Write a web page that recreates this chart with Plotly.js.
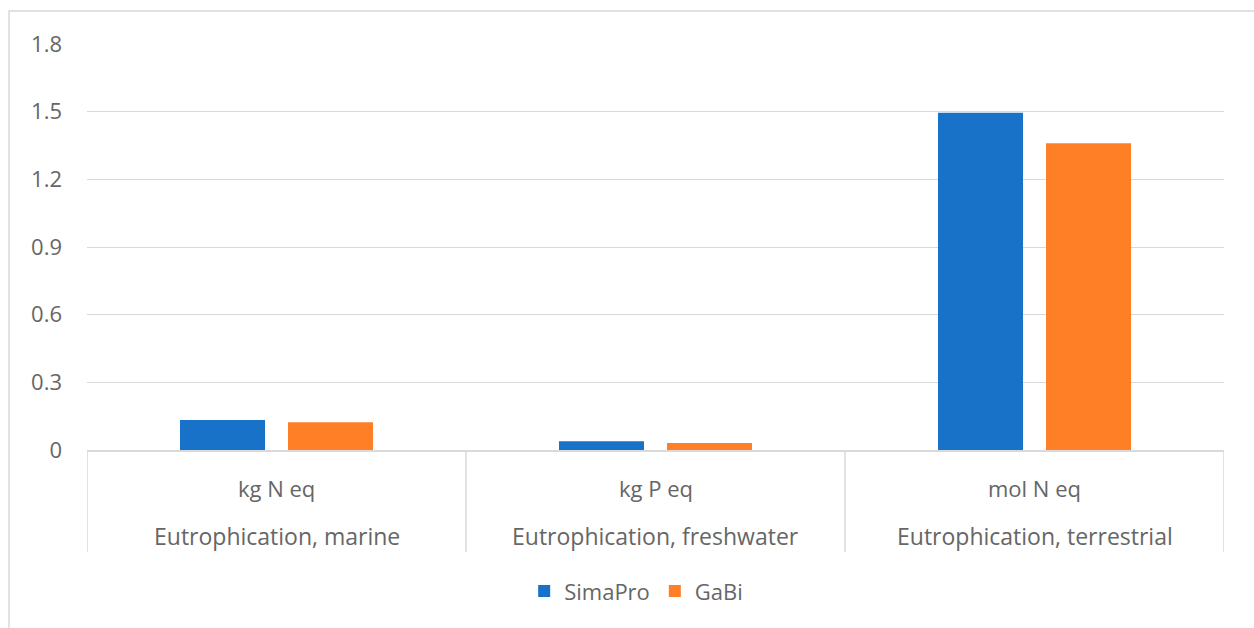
<!DOCTYPE html>
<html>
<head>
<meta charset="utf-8">
<script src="https://cdn.plot.ly/plotly-3.0.1.min.js"></script>
<style>html,body{margin:0;padding:0;background:#fff;}#chart{width:1254px;height:628px;}</style>
</head>
<body>
<div id="chart"></div>
<script>
const categories = ["Eutrophication, marine", "Eutrophication, freshwater", "Eutrophication, terrestrial"];
const units = ["kg N eq", "kg P eq", "mol N eq"];
const simaPro = [0.133, 0.039, 1.495];
const gaBi = [0.123, 0.031, 1.36];
const yTicks = [0, 0.3, 0.6, 0.9, 1.2, 1.5, 1.8];

const FONT = "Open Sans, Noto Sans, sans-serif";
const GRAY = "#666666";
const LINE = "#d9d9d9";
const FS = 22;

const idx = categories.map((c, i) => i);

const traces = [
  {type: "bar", name: "SimaPro", x: idx, y: simaPro, marker: {color: "#1772C8"}},
  {type: "bar", name: "GaBi", x: idx, y: gaBi, marker: {color: "#FF7F27"}}
];

const annotations = [];
idx.forEach(i => {
  annotations.push({x: i, xref: "x", y: -0.0936, yref: "paper", text: units[i], showarrow: false,
    font: {family: FONT, size: FS, color: GRAY}, xanchor: "center", yanchor: "middle"});
  annotations.push({x: i, xref: "x", y: -0.2118, yref: "paper", text: categories[i], showarrow: false,
    font: {family: FONT, size: 23, color: GRAY}, xanchor: "center", yanchor: "middle"});
});

const shapes = [];
[-0.5, 0.5, 1.5, 2.5].forEach(b => {
  shapes.push({type: "line", xref: "x", yref: "paper", x0: b, x1: b, y0: 0, y1: -0.251,
    line: {color: LINE, width: 1.5}});
});
// outer chart border
shapes.push({type: "rect", xref: "paper", yref: "paper",
  x0: (9 - 87) / 1137, x1: (1260 - 87) / 1137, y0: (450 - 640) / 406, y1: (450 - 11) / 406,
  line: {color: LINE, width: 1.5}, fillcolor: "rgba(0,0,0,0)"});

const layout = {
  width: 1254, height: 628,
  margin: {l: 87, r: 30, t: 44, b: 178},
  paper_bgcolor: "#ffffff", plot_bgcolor: "#ffffff",
  font: {family: FONT, color: GRAY},
  barmode: "group",
  bargap: 0.43,
  bargroupgap: 0.213,
  showlegend: true,
  legend: {orientation: "h", x: 0.483, xanchor: "center", y: -0.348, yanchor: "middle",
    font: {family: FONT, size: FS, color: GRAY}, itemwidth: 30, traceorder: "normal"},
  xaxis: {range: [-0.5, 2.5], showticklabels: false, showgrid: false, zeroline: false,
    showline: true, linecolor: LINE, linewidth: 2, ticks: "", fixedrange: true},
  yaxis: {range: [0, 1.8], tickvals: yTicks, ticktext: yTicks.map(v => String(v)),
    showgrid: true, gridcolor: LINE, gridwidth: 1, zeroline: false, showline: false,
    ticks: "", ticklabelstandoff: 24, tickfont: {family: FONT, size: FS, color: GRAY}, fixedrange: true},
  annotations: annotations,
  shapes: shapes
};

Plotly.newPlot("chart", traces, layout, {staticPlot: true, displayModeBar: false});
</script>
</body>
</html>
